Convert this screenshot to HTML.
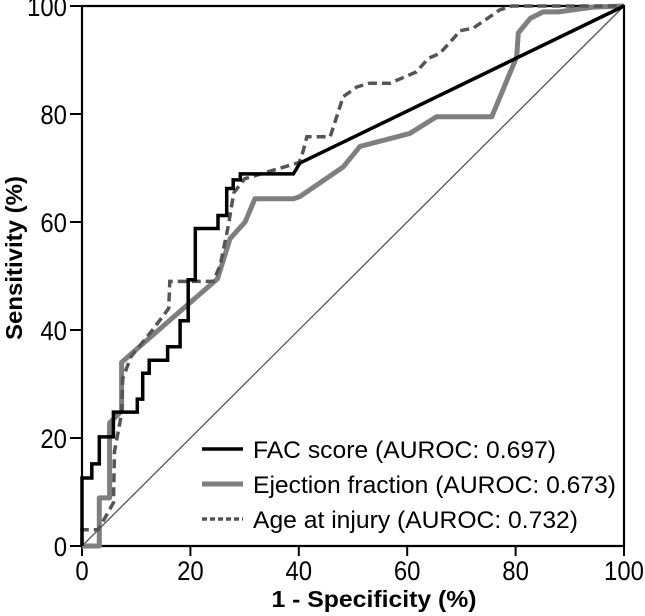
<!DOCTYPE html>
<html><head><meta charset="utf-8">
<style>
html,body{margin:0;padding:0;background:#fff;}
svg{display:block;font-family:"Liberation Sans",Arial,sans-serif;}
</style></head>
<body>
<svg id="chart" width="645" height="616" viewBox="0 0 645 616" xmlns="http://www.w3.org/2000/svg">
<g id="axes"></g>
<g id="series"></g>
<g id="legend"></g>
</svg>
<script>
const xTicks = [0, 20, 40, 60, 80, 100];
const yTicks = [0, 20, 40, 60, 80, 100];
const facX = [0,0,1.8,1.8,3.2,3.2,5.8,5.8,10.2,10.2,11.2,11.2,12.4,12.4,15.8,15.8,18.1,18.1,19.6,19.6,20.9,20.9,25.1,25.1,26.7,26.7,27.9,27.9,29.2,29.2,39,39,40.2,100];
const facY = [0,12.6,12.6,15.2,15.2,20.2,20.2,24.8,24.8,27.2,27.2,32,32,34.4,34.4,36.9,36.9,41.7,41.7,49.3,49.3,58.8,58.8,61.2,61.2,66.2,66.2,67.8,67.8,68.9,68.9,68.9,70.9,100];
const efX = [0,3.2,3.2,5.1,5.1,7.3,7.3,9,25,27.3,30.1,31.9,39,40.2,48.2,51.3,60.5,65.4,75.6,80.2,80.5,82.7,85.1,87.9,94.3,100];
const efY = [0,0,8.9,8.9,22.8,25,34,35.5,49.5,56.9,60,64.3,64.3,64.7,70.2,74,76.4,79.5,79.5,90.6,95,97.7,98.9,98.9,99.8,100];
const ageX = [0,0,3,5.8,6,7.3,7.5,9,13,16,16.2,16.8,24.2,25.5,27,28,30,40,40.5,41.5,45.8,48.2,50.7,53.1,56.8,61.7,63.9,66,68.8,69.7,72.2,77.1,79.3,100];
const ageY = [0,3,3,8,17.5,24.6,31,35,40,44,49,49,49,52,59.3,65.4,68,71,72,75.8,75.8,83.2,85,85.7,85.7,87.8,90.3,91.2,94.3,95.4,95.9,99.3,100,100];
const legendLabels = ["FAC score (AUROC: 0.697)","Ejection fraction (AUROC: 0.673)","Age at injury (AUROC: 0.732)"];

const NS = "http://www.w3.org/2000/svg";
const X0 = 82, X1 = 624, Y0 = 546, Y1 = 6;
function sx(v){ return X0 + (X1 - X0) * v / 100; }
function sy(v){ return Y0 - (Y0 - Y1) * v / 100; }
function mk(tag, attrs, parent){
  const e = document.createElementNS(NS, tag);
  for (const k in attrs) e.setAttribute(k, attrs[k]);
  parent.appendChild(e);
  return e;
}
const axes = document.getElementById('axes');
const series = document.getElementById('series');
const legend = document.getElementById('legend');

// frame
let fr = mk('path', {d:`M${X0},${Y1} V${Y0} H${X1} V${Y1} H${X0}`, fill:'none', stroke:'#000', 'stroke-width':2.2}, axes);



xTicks.forEach(t => {
  const l = mk('line', {x1:sx(t), x2:sx(t), y1:Y0, y2:Y0+10, stroke:'#000', 'stroke-width':2}, axes);
  
  
  const s = String(t);
  const tx = mk('text', {x:sx(t), y:580, 'text-anchor':'middle', 'font-size':27, fill:'#000', textLength: s.length*13.3, lengthAdjust:'spacingAndGlyphs'}, axes);
  tx.textContent = s;
  
  
});
yTicks.forEach(t => {
  const l = mk('line', {x1:X0-12, x2:X0, y1:sy(t), y2:sy(t), stroke:'#000', 'stroke-width':2}, axes);
  
  
  const s = String(t);
  const tx = mk('text', {x:67, y:sy(t)+10, 'text-anchor':'end', 'font-size':27, fill:'#000', textLength: s.length*13.3, lengthAdjust:'spacingAndGlyphs'}, axes);
  tx.textContent = s;
  
  
});
let xt = mk('text', {x:374, y:607, 'text-anchor':'middle', 'font-size':23, 'font-weight':'bold', fill:'#000', textLength:205, lengthAdjust:'spacingAndGlyphs'}, axes);
xt.textContent = '1 - Specificity (%)';


let yt = mk('text', {x:0, y:0, transform:'translate(22,258) rotate(-90)', 'text-anchor':'middle', 'font-size':23, 'font-weight':'bold', fill:'#000', textLength:164, lengthAdjust:'spacingAndGlyphs'}, axes);
yt.textContent = 'Sensitivity (%)';



// diagonal reference
let dg = mk('line', {x1:sx(0), y1:sy(0), x2:sx(100), y2:sy(100), stroke:'#555', 'stroke-width':1.3}, series);



function pts(xs, ys){ return xs.map((x,i)=>sx(x).toFixed(1)+','+sy(ys[i]).toFixed(1)).join(' '); }
let ef = mk('polyline', {points:pts(efX,efY), fill:'none', stroke:'#7f7f7f', 'stroke-width':5, 'stroke-linejoin':'round'}, series);


let ag = mk('polyline', {points:pts(ageX,ageY), fill:'none', stroke:'#555', 'stroke-width':3.5, 'stroke-dasharray':'9,5'}, series);


let fc = mk('polyline', {points:pts(facX,facY), fill:'none', stroke:'#000', 'stroke-width':3.5}, series);



const lgStroke = ['#000','#7f7f7f','#555'];
const lgW = [3.5,5,3.5];
const lgDash = ['none','none','5,3'];
const lgRowY = [449,484,519];
const lgLen = [303,363,325];
legendLabels.forEach((lab,i) => {
  const l = mk('line', {x1:202, x2:243, y1:lgRowY[i], y2:lgRowY[i], stroke:lgStroke[i], 'stroke-width':lgW[i], 'stroke-dasharray':lgDash[i]}, legend);
  
  
  const t = mk('text', {x:253, y:lgRowY[i]+9, 'font-size':24, fill:'#000', textLength:lgLen[i], lengthAdjust:'spacingAndGlyphs'}, legend);
  t.textContent = lab;
  
  
});
</script>
</body></html>
